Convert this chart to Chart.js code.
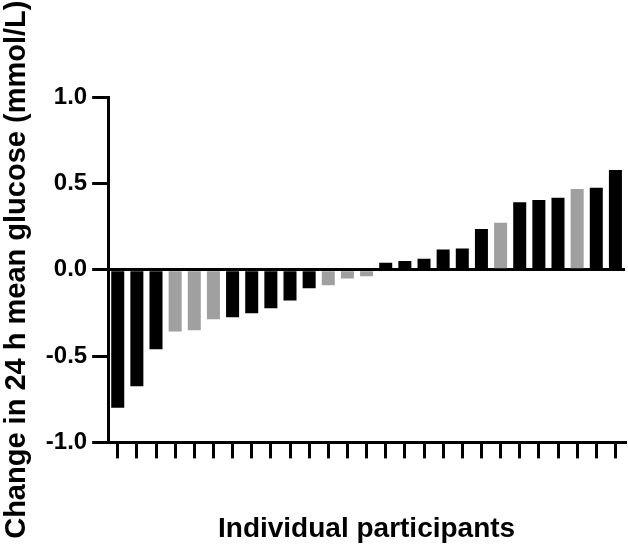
<!DOCTYPE html>
<html>
<head>
<meta charset="utf-8">
<script src="https://cdn.jsdelivr.net/npm/chart.js@4"></script>
<style>
  html, body { margin: 0; padding: 0; background: #fff; }
  #wrap { width: 628px; height: 548px; }
</style>
</head>
<body>
<div id="wrap"><canvas id="chart"></canvas></div>
<script>
// one bar per participant, sorted by change
const participants = Array.from({ length: 27 }, (_, i) => 'P' + (i + 1))
const glucoseChange = [
    -0.80, -0.675, -0.46, -0.358, -0.35, -0.287, -0.275, -0.252, -0.223,
    -0.179, -0.107, -0.09, -0.051, -0.038, 0.04, 0.05, 0.063, 0.117,
    0.123, 0.235, 0.272, 0.391, 0.403, 0.417, 0.468, 0.474, 0.577
]
// grey bars = second group
const isGrey = [
    0, 0, 0, 1, 1, 1, 0, 0, 0,
    0, 0, 1, 1, 1, 0, 0, 0, 0,
    0, 0, 1, 0, 0, 0, 1, 0, 0
]
const yTicks = [-1.0, -0.5, 0.0, 0.5, 1.0]

const font = "'Liberation Sans', Arial, sans-serif"
const ctx = document.getElementById('chart').getContext('2d')

new Chart(ctx, {
    type: 'bar',
    data: {
        labels: participants,
        datasets: [{
            data: glucoseChange,
            backgroundColor: isGrey.map(g => g ? '#a0a0a0' : '#000000'),
            borderWidth: 0,
            barPercentage: 0.68,
            categoryPercentage: 1.0
        }]
    },
    options: {
        responsive: true,
        maintainAspectRatio: false,
        animation: false,
        layout: { padding: { top: 97, right: 3, left: 0, bottom: 2 } },
        plugins: {
            legend: { display: false },
            tooltip: { enabled: false }
        },
        scales: {
            x: {
                grid: {
                    offset: false,
                    drawOnChartArea: false,
                    drawTicks: true,
                    tickLength: 16,
                    tickColor: '#000',
                    lineWidth: 3
                },
                border: { display: true, color: '#000', width: 3 },
                ticks: { display: false },
                title: {
                    display: true,
                    text: 'Individual participants',
                    color: '#000',
                    font: { family: font, size: 28, weight: 'bold' },
                    padding: { top: 54, bottom: 0 }
                }
            },
            y: {
                min: -1,
                max: 1,
                afterBuildTicks: axis => { axis.ticks = yTicks.map(v => ({ value: v })) },
                grid: {
                    color: c => c.tick && c.tick.value === 0 ? '#000' : 'rgba(0,0,0,0)',
                    tickColor: '#000',
                    lineWidth: 3,
                    tickLength: 16,
                    drawTicks: true
                },
                border: { display: true, color: '#000', width: 3 },
                ticks: {
                    color: '#000',
                    padding: 5,
                    font: { family: font, size: 24, weight: 'bold' },
                    callback: v => v.toFixed(1)
                },
                title: {
                    display: true,
                    text: 'Change in 24 h mean glucose (mmol/L)',
                    color: '#000',
                    font: { family: font, size: 29, weight: 'bold' },
                    padding: { top: 0, bottom: 6 }
                }
            }
        }
    }
})
</script>
</body>
</html>
